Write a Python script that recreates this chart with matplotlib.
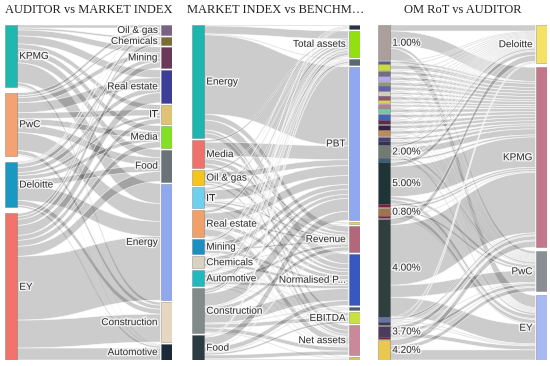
import matplotlib
matplotlib.use("Agg")
import matplotlib.pyplot as plt
from matplotlib.path import Path
from matplotlib.patches import PathPatch, Rectangle
import matplotlib.patheffects as pe

# ============================================================
# DATA
# ============================================================

# --- panel 1: auditor -> market index ---
AUDITORS_1 = ["KPMG", "PwC", "Deloitte", "EY"]
AUDITOR_COLORS_1 = ["#1fb8b0", "#f4a272", "#1a98c4", "#f2736a"]
SECTORS_1 = ["Oil & gas", "Chemicals", "Mining", "Real estate", "IT", "Media",
             "Food", "Energy", "Construction", "Automotive"]
SECTOR_COLORS_1 = ["#7a6282", "#7c6c34", "#6a3a5a", "#3d3d9a", "#dfc273",
                   "#84e024", "#6a7478", "#90a9ee", "#e6d6c2", "#1b2939"]
# rows = auditors, cols = sectors
FLOWS_1 = [
    [3, 2, 6, 8, 5, 6, 8, 20, 3, 1],
    [3, 2, 5, 10, 6, 6, 8, 18, 4, 1],
    [1, 1, 4, 5, 3, 4, 6, 15, 5, 2],
    [3, 3, 6, 10, 5, 6, 10, 64, 28, 12],
]

# --- panel 2: market index -> benchmark ---
SECTORS_2 = ["Energy", "Media", "Oil & gas", "IT", "Real estate", "Mining",
             "Chemicals", "Automotive", "Construction", "Food"]
SECTOR_COLORS_2 = ["#1cb5b0", "#f0716a", "#f5c51c", "#70d0f0", "#f0a16a",
                   "#1b90c0", "#d9d1c2", "#22b8c0", "#818b89", "#2b3b41"]
BENCHMARKS = ["", "Total assets", "", "PBT", "", "Revenue", "Normalised P...",
              "", "EBITDA", "Net assets", ""]
BENCHMARK_COLORS = ["#2a3440", "#92e012", "#5a6a70", "#90a9ee", "#f0d040",
                    "#b0687a", "#3858c0", "#506070", "#c8e040", "#c8899a",
                    "#e0c050"]
# rows = sectors, cols = benchmarks
FLOWS_2 = [
    [1, 8, 1, 80, 0, 6, 10, 0, 3, 5, 0],
    [0, 2, 0, 14, 0, 3, 5, 0, 0, 4, 0],
    [0, 2, 0, 6, 0, 2, 3, 0, 0, 2, 0],
    [1, 2, 0, 10, 1, 2, 4, 0, 0, 1, 0],
    [0, 3, 0, 9, 0, 2, 4, 0, 1, 7, 1],
    [1, 2, 1, 5, 0, 2, 3, 0, 0, 1, 0],
    [0, 1, 0, 5, 0, 1, 3, 1, 0, 1, 0],
    [1, 2, 1, 4, 0, 3, 3, 0, 1, 1, 0],
    [0, 3, 2, 13, 1, 4, 12, 1, 4, 4, 1],
    [0, 1, 1, 9, 0, 1, 5, 1, 2, 4, 1],
]

# --- panel 3: OM rule of thumb -> auditor ---
OM_ROT = ["1.00%", "", "", "", "", "", "", "", "", "", "", "", "", "", "", "",
          "", "", "2.00%", "", "5.00%", "", "0.80%", "", "4.00%", "", "",
          "3.70%", "", "4.20%"]
OM_COLORS = ["#ab9f9c", "#5a5a9a", "#c8dc40", "#70707c", "#b4a8f0", "#909878",
             "#6262aa", "#d4ccbc", "#8c5870", "#e0d050", "#b87c98", "#78c4a4",
             "#4464b4", "#5c2c4c", "#3c2040", "#b88c5c", "#4c3c70", "#2c3458",
             "#737a72", "#3c5c80", "#1f3434", "#802040", "#9c7450", "#802040",
             "#2f3f3f", "#6474a4", "#3c3c4c", "#4c3c5c", "#802040", "#e8c850"]
AUDITORS_3 = ["Deloitte", "KPMG", "PwC", "EY"]
AUDITOR_COLORS_3 = ["#f5e163", "#c4768a", "#8a8f96", "#a9b9f4"]
# rows = OM RoT, cols = auditors
FLOWS_3 = [
    [6, 14, 3, 12],
    [1, 2, 0, 0], [1, 4, 1, 0], [1, 3, 0, 1], [1, 3, 1, 0], [1, 3, 0, 0],
    [1, 3, 1, 0], [1, 2, 0, 1], [1, 3, 0, 0], [1, 2, 0, 0], [1, 2, 1, 0],
    [1, 3, 0, 1], [1, 3, 1, 1], [1, 3, 0, 0], [1, 3, 1, 0], [1, 3, 1, 1],
    [1, 2, 1, 0], [1, 3, 0, 0],
    [2, 6, 2, 2],
    [1, 2, 1, 0],
    [4, 30, 3, 4],
    [0, 2, 0, 1],
    [0, 2, 2, 4],
    [0, 1, 0, 1],
    [6, 60, 12, 19],
    [1, 2, 1, 1], [1, 1, 0, 1],
    [0, 4, 3, 4],
    [0, 1, 1, 0],
    [0, 6, 4, 10],
]

TITLES = ["AUDITOR vs MARKET INDEX", "MARKET INDEX vs BENCHM\u2026",
          "OM RoT vs AUDITOR"]

# ============================================================
# SANKEY DRAWING
# ============================================================

W, H = 550, 366
NODE_W = 11.5  # px
LINK_COLOR = (0, 0, 0, 0.2)
LABEL_FX = [pe.withStroke(linewidth=2, foreground="white", alpha=0.8)]


def column_layout(values, span, n_gap_total):
    gap = (span - sum(values)) / max(len(values) - 1, 1)
    tops, y = [], 0.0
    for v in values:
        tops.append(y)
        y += v + gap
    return tops


def draw_sankey(ax, left, right, flows, lcol, rcol, lpad, rpad, width_px):
    n_l, n_r = len(left), len(right)
    lval = [sum(r) for r in flows]
    rval = [sum(flows[i][j] for i in range(n_l)) for j in range(n_r)]
    total = sum(lval)
    span = max(total + (n_l - 1) * lpad, total + (n_r - 1) * rpad)
    ltop = column_layout(lval, span, n_l)
    rtop = column_layout(rval, span, n_r)

    w = NODE_W / width_px
    x0, x1 = w, 1 - w
    xm = (x0 + x1) / 2

    # links: ordered by target at source, by source at target
    s_off = list(ltop)
    t_off = list(rtop)
    links = []
    for i in range(n_l):
        for j in range(n_r):
            v = flows[i][j]
            if v <= 0:
                continue
            links.append((i, j, s_off[i], v))
            s_off[i] += v
    starts_t = {}
    for j in range(n_r):
        for i in range(n_l):
            v = flows[i][j]
            if v <= 0:
                continue
            starts_t[(i, j)] = t_off[j]
            t_off[j] += v

    for i, j, s0, v in links:
        t0 = starts_t[(i, j)]
        s1, t1 = s0 + v, t0 + v
        verts = [(x0, s0), (xm, s0), (xm, t0), (x1, t0), (x1, t1),
                 (xm, t1), (xm, s1), (x0, s1), (x0, s0)]
        codes = [Path.MOVETO, Path.CURVE4, Path.CURVE4, Path.CURVE4,
                 Path.LINETO, Path.CURVE4, Path.CURVE4, Path.CURVE4,
                 Path.CLOSEPOLY]
        ax.add_patch(PathPatch(Path(verts, codes), facecolor=LINK_COLOR,
                               edgecolor=(1, 1, 1, 0.7), lw=0.5, zorder=1))

    # nodes
    for k, (name, v) in enumerate(zip(left, lval)):
        ax.add_patch(Rectangle((0, ltop[k]), w, v, facecolor=lcol[k],
                               edgecolor=(0.3, 0.3, 0.3, 0.5), lw=0.4,
                               zorder=3))
        if name:
            ax.annotate(name, (w, ltop[k] + v / 2), xytext=(2, 0),
                        textcoords="offset points", ha="left", va="center",
                        fontsize=7.2, color="#333333", zorder=4,
                        family="Liberation Sans", path_effects=LABEL_FX)
    for k, (name, v) in enumerate(zip(right, rval)):
        ax.add_patch(Rectangle((1 - w, rtop[k]), w, v, facecolor=rcol[k],
                               edgecolor=(0.3, 0.3, 0.3, 0.5), lw=0.4,
                               zorder=3))
        if name:
            ax.annotate(name, (1 - w, rtop[k] + v / 2), xytext=(-2, 0),
                        textcoords="offset points", ha="right", va="center",
                        fontsize=7.2, color="#333333", zorder=4,
                        family="Liberation Sans", path_effects=LABEL_FX)

    ax.set_xlim(0, 1)
    ax.set_ylim(span, 0)
    ax.axis("off")


fig = plt.figure(figsize=(W / 100, H / 100), dpi=100)

panels = [
    (5, 172, AUDITORS_1, SECTORS_1, FLOWS_1, AUDITOR_COLORS_1,
     SECTOR_COLORS_1, 2, 2),
    (192, 360, SECTORS_2, BENCHMARKS, FLOWS_2, SECTOR_COLORS_2,
     BENCHMARK_COLORS, 2, 2),
    (378, 547, OM_ROT, AUDITORS_3, FLOWS_3, OM_COLORS, AUDITOR_COLORS_3,
     0.4, 2),
]
top_px, bot_px = 25, 360

for (xa, xb, left, right, flows, lc, rc, lp, rp), title in zip(panels, TITLES):
    ax = fig.add_axes([xa / W, 1 - bot_px / H, (xb - xa) / W,
                       (bot_px - top_px) / H])
    draw_sankey(ax, left, right, flows, lc, rc, lp, rp, xb - xa)
    ax.set_title(title, fontsize=9, family="Liberation Serif", color="#222222",
                 pad=8.5)

fig.savefig("out.png", dpi=100)
